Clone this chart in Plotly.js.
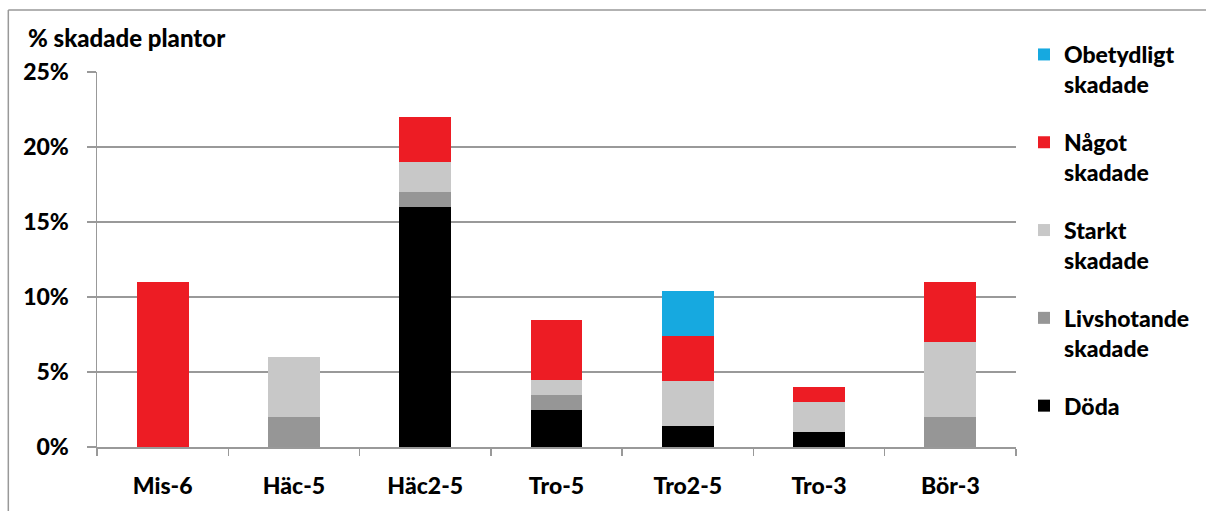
<!DOCTYPE html>
<html>
<head>
<meta charset="utf-8">
<script src="https://cdn.plot.ly/plotly-3.0.1.min.js"></script>
<style>html,body{margin:0;padding:0;background:#fff;}#chart{width:1206px;height:511px;}</style>
</head>
<body>
<div id="chart"></div>
<script>
const categories = ["Mis-6", "Häc-5", "Häc2-5", "Tro-5", "Tro2-5", "Tro-3", "Bör-3"];
const doda        = [0, 0, 16, 2.5, 1.4, 1, 0];
const livshotande = [0, 2, 1, 1, 0, 0, 2];
const starkt      = [0, 4, 2, 1, 3, 2, 5];
const nagot       = [11, 0, 3, 4, 3, 1, 4];
const obetydligt  = [0, 0, 0, 0, 3, 0, 0];
const yTicks = [0, 5, 10, 15, 20, 25];
const yTickText = ["0%", "5%", "10%", "15%", "20%", "25%"];

const font = "Lato, 'Open Sans', sans-serif";
const fs = 23;
const fw = 900;
const series = [
  {name: "Döda", y: doda, color: "#000000"},
  {name: "Livshotande<br>skadade", y: livshotande, color: "#969696"},
  {name: "Starkt<br>skadade", y: starkt, color: "#C8C8C8"},
  {name: "Något<br>skadade", y: nagot, color: "#ED1C24"},
  {name: "Obetydligt<br>skadade", y: obetydligt, color: "#16A9E0"}
];
const traces = series.map((s, i) => ({
  type: "bar", x: categories, y: s.y, name: s.name, legendgroup: "g" + i, legendrank: 10 - i,
  marker: {color: s.color, line: {width: 0}}, hoverinfo: "skip"
}));

const gray = "#999999";
const layout = {
  width: 1206, height: 511,
  margin: {l: 97, r: 189, t: 72, b: 64},
  barmode: "stack", bargap: 0.604,
  paper_bgcolor: "#fff", plot_bgcolor: "#fff",
  font: {family: font, size: fs, color: "#000", weight: fw},
  showlegend: true,
  legend: {x: 1.0076, xanchor: "left", y: 1.104, yanchor: "top", traceorder: "grouped",
           tracegroupgap: 25, valign: "top", maxheight: 500,
           font: {family: font, size: fs, weight: fw, color: "#000"}, itemwidth: 30},
  xaxis: {type: "category", tickson: "boundaries", ticks: "outside", ticklen: 7, tickcolor: gray, tickwidth: 1.5,
          showline: true, linecolor: gray, linewidth: 1.5, showgrid: false, ticklabelstandoff: 18,
          tickfont: {family: font, size: fs, weight: fw}},
  yaxis: {range: [0, 25], tickvals: yTicks, ticktext: yTickText, ticks: "outside", ticklen: 9, tickcolor: gray,
          tickwidth: 1.5, showline: true, linecolor: gray, linewidth: 1.5, showgrid: true, gridcolor: gray,
          gridwidth: 1.5, zeroline: false, ticklabelstandoff: 13, tickfont: {family: font, size: fs, weight: fw}},
  annotations: [{text: "% skadade plantor", xref: "paper", yref: "paper", x: -0.077, y: 1.093,
                 xanchor: "left", yanchor: "middle", showarrow: false,
                 font: {family: font, size: 24, weight: fw, color: "#000"}}],
  shapes: [
    {type: "line", xref: "paper", yref: "paper", x0: -0.0965, x1: -0.0965, y0: 1.1653, y1: -0.2, line: {color: gray, width: 1.5}},
    {type: "line", xref: "paper", yref: "paper", x0: -0.0965, x1: 1.21, y0: 1.1653, y1: 1.1653, line: {color: gray, width: 1.5}}
  ]
};
Plotly.newPlot("chart", traces, layout, {displayModeBar: false, staticPlot: true});
</script>
</body>
</html>
